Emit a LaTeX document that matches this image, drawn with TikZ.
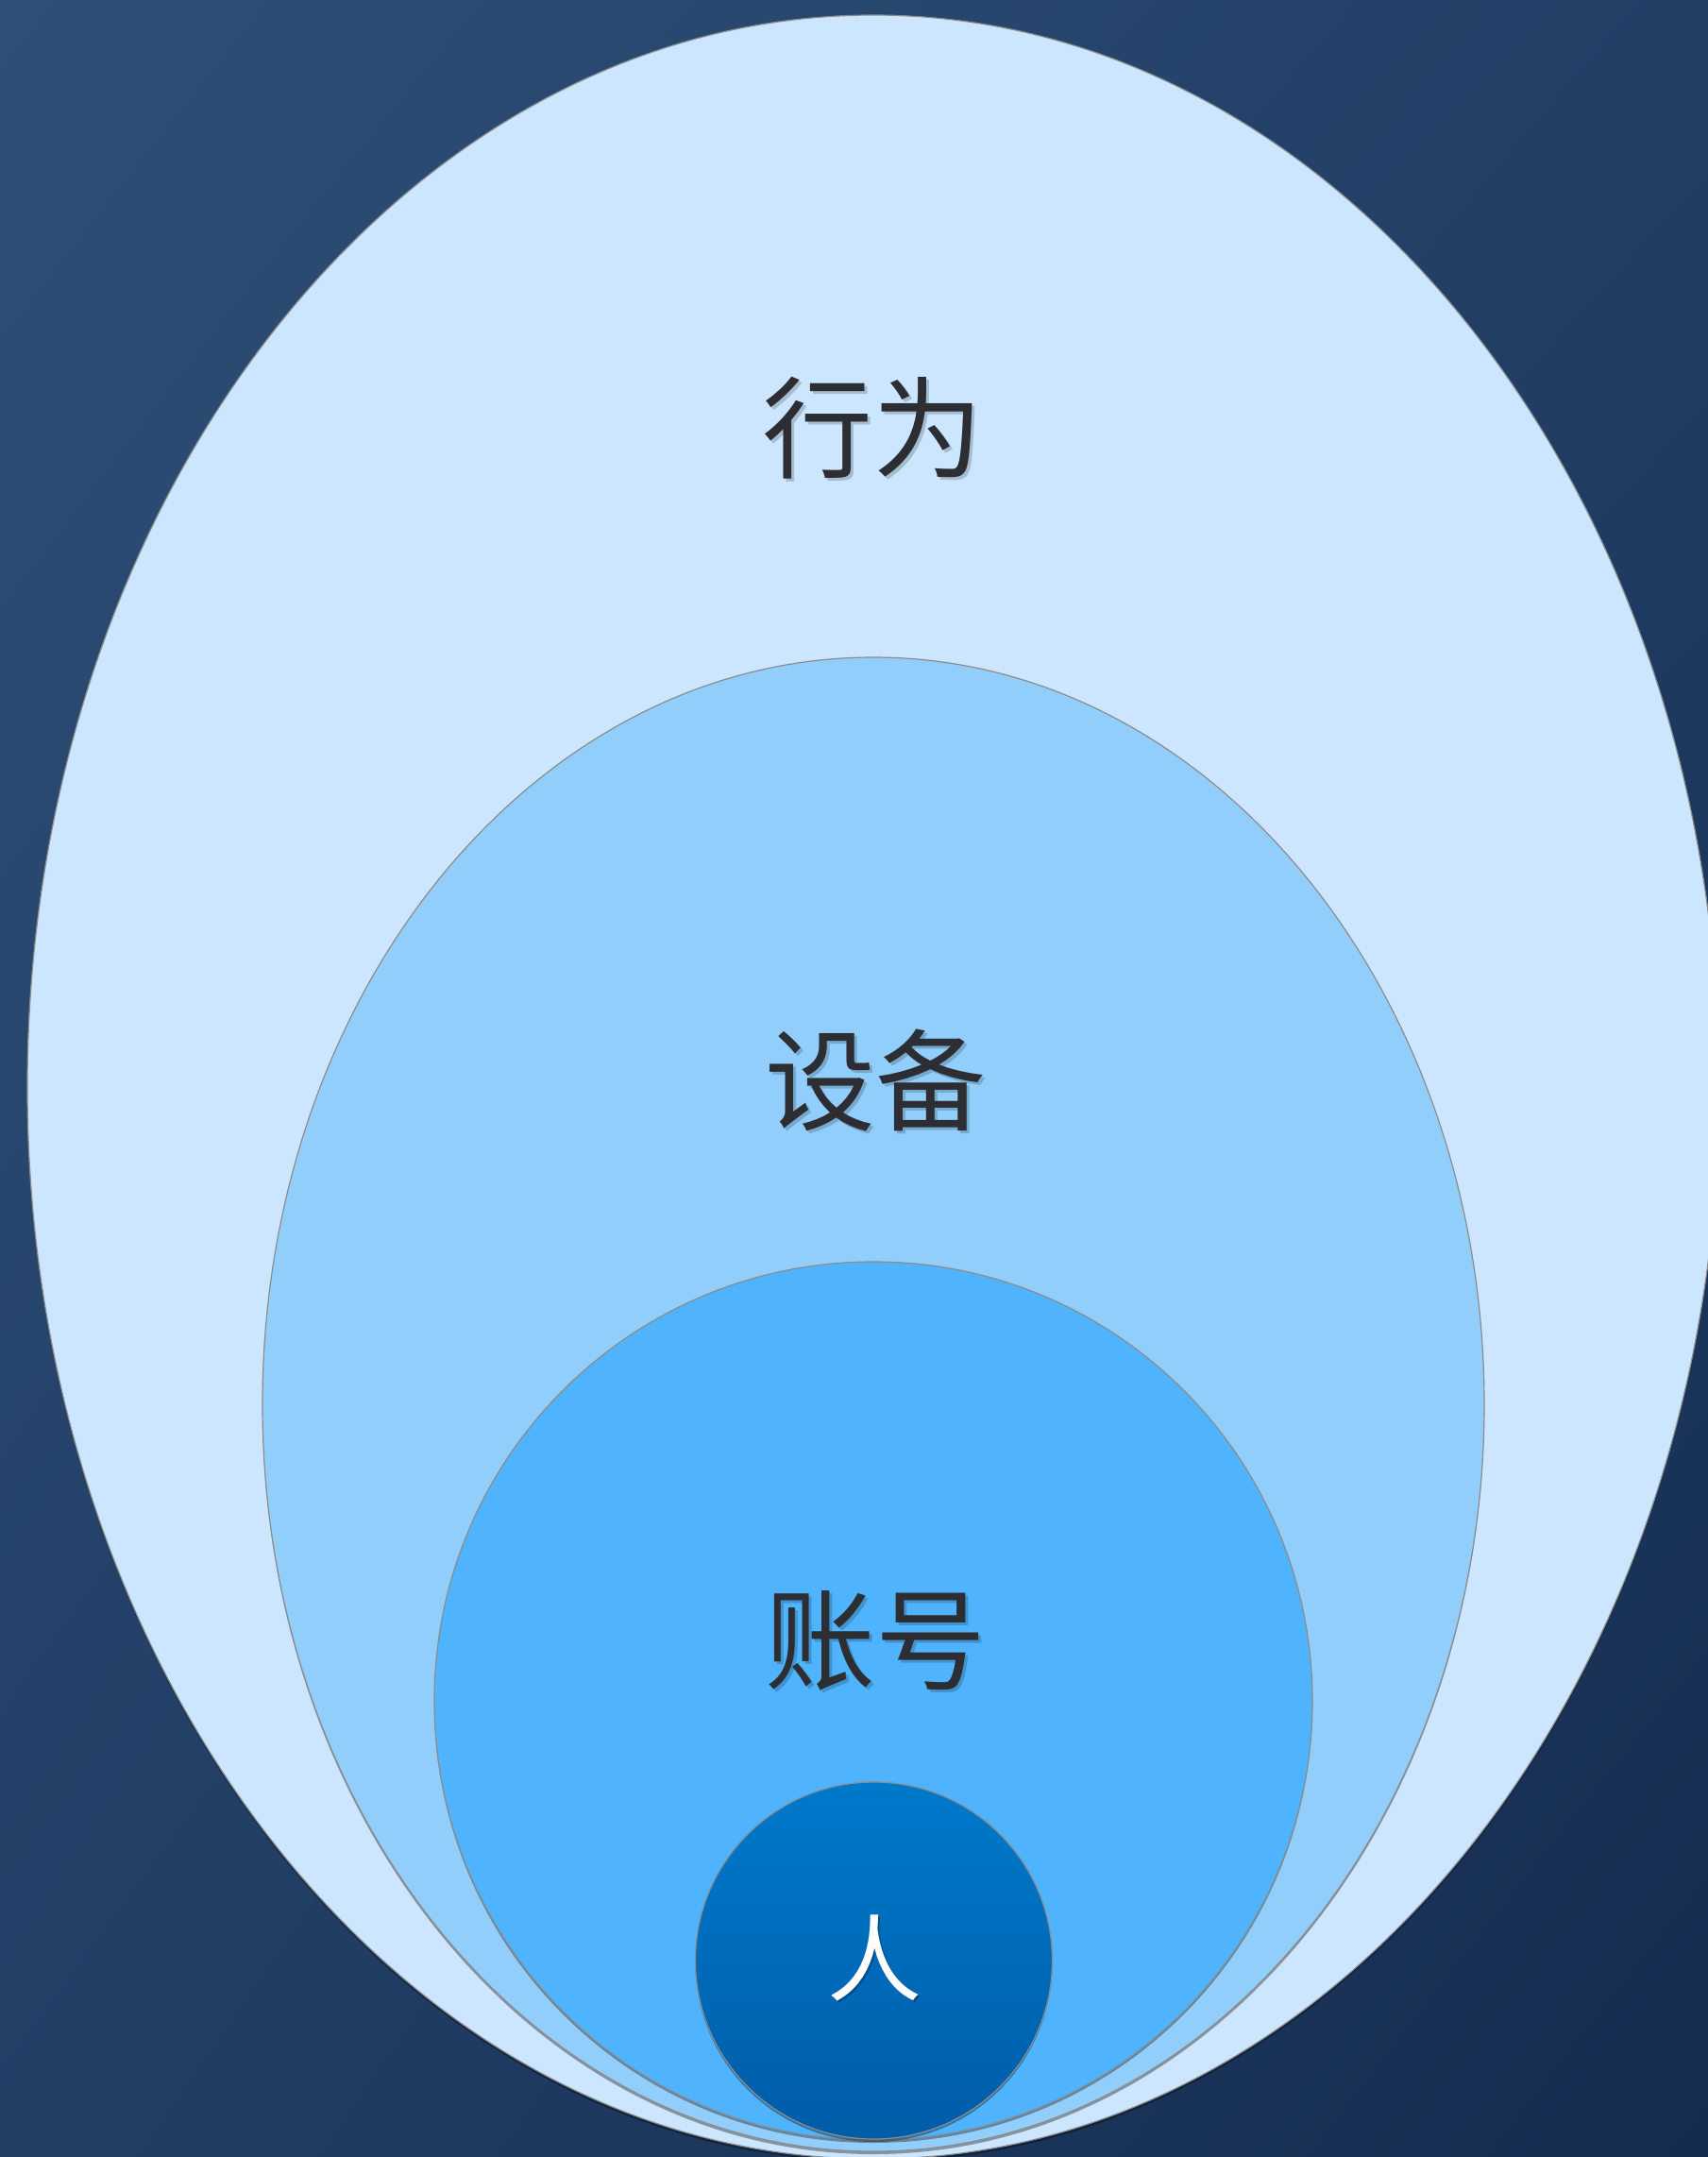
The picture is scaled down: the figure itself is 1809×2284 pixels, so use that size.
\documentclass[tikz,border=0pt]{standalone}
\usepackage{fontspec}
\newfontfamily\cjk{Noto Sans CJK SC}
\usetikzlibrary{shapes.geometric,shadows,shadings}
\definecolor{bgTL}{HTML}{2E4F77}
\definecolor{bgMid}{HTML}{223F66}
\definecolor{bgBR}{HTML}{152C50}
\definecolor{lvA}{HTML}{CBE6FE}
\definecolor{lvB}{HTML}{92CEFC}
\definecolor{lvC}{HTML}{4FB4FD}
\definecolor{lvDtop}{HTML}{0079CB}
\definecolor{lvDbot}{HTML}{005CA8}
\definecolor{txt}{HTML}{2C2E33}
\tikzset{
  layer/.style={ellipse, inner sep=0pt, draw=black!45, line width=1.2pt,
    drop shadow={shadow xshift=0pt, shadow yshift=-3pt, opacity=0.35, fill=black}},
  lbl/.style={font=\cjk\fontsize{117}{117}\selectfont, text=txt, inner sep=0pt},
  lblshadow/.style={font=\cjk\fontsize{117}{117}\selectfont, text=black, opacity=0.18, inner sep=0pt}
}
\begin{document}
\begin{tikzpicture}[x=1pt,y=-1pt]
\useasboundingbox (0,0) rectangle (1809,2284);
\clip (0,0) rectangle (1809,2284);
\shade[upper left=bgTL, upper right=bgMid, lower left=bgMid, lower right=bgBR] (0,0) rectangle (1809,2284);
\node[layer, fill=lvA, minimum width=1792pt, minimum height=2270pt] (outer) at (925,1151) {};
\node[layer, fill=lvB, minimum width=1294pt, minimum height=1582pt] (second) at (925,1487) {};
\node[layer, fill=lvC, minimum width=930pt, minimum height=930pt] (third) at (925,1801) {};
\node[layer, top color=lvDtop, bottom color=lvDbot, minimum width=378pt, minimum height=378pt] (inner) at (925.5,2076) {};
% labels with soft shadow
\node[lblshadow] at (927,456) {行为};
\node[lbl] (tA) at (924,453) {行为};
\node[lblshadow] at (930,1147) {设备};
\node[lbl] (tB) at (927,1144) {设备};
\node[lblshadow] at (930,1740) {账号};
\node[lbl] (tC) at (927,1737) {账号};
\node[font=\cjk\fontsize{100}{100}\selectfont, text=black, opacity=0.25, inner sep=0pt] at (928.5,2075.5) {人};
\node[font=\cjk\fontsize{100}{100}\selectfont, text=white, inner sep=0pt] (tD) at (926,2073) {人};
\end{tikzpicture}
\end{document}
